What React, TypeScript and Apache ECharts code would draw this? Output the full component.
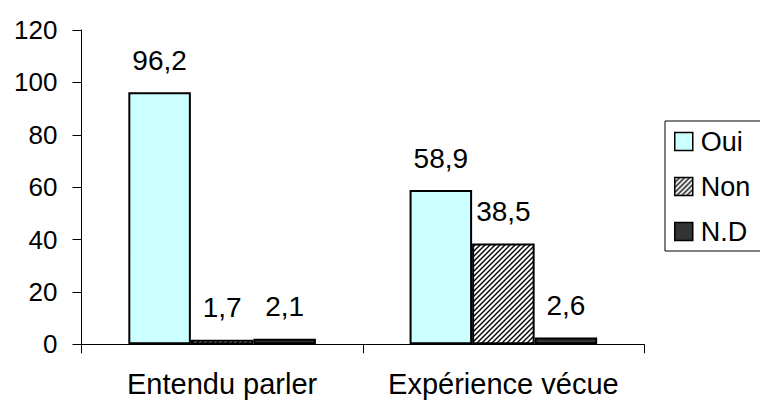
import React, { useEffect, useRef } from "react";
import * as echarts from "echarts";

const categories = ["Entendu parler", "Expérience vécue"];
const seriesNames = ["Oui", "Non", "N.D"];
const ouiValues = [96.2, 58.9];
const nonValues = [1.7, 38.5];
const ndValues = [2.1, 2.6];
const yTicks = { min: 0, max: 120, interval: 20 };

const FONT = "'Liberation Sans', Arial, sans-serif";

// Diagonal "/" hatching used for the "Non" bars.
function makeHatch(): HTMLCanvasElement {
  const size = 5;
  const c = document.createElement("canvas");
  c.width = size;
  c.height = size;
  const ctx = c.getContext("2d")!;
  ctx.fillStyle = "#ffffff";
  ctx.fillRect(0, 0, size, size);
  ctx.strokeStyle = "#000000";
  ctx.lineWidth = 1.4;
  ctx.beginPath();
  ctx.moveTo(-1, size + 1);
  ctx.lineTo(size + 1, -1);
  ctx.moveTo(-1, 1);
  ctx.lineTo(1, -1);
  ctx.moveTo(size - 1, size + 1);
  ctx.lineTo(size + 1, size - 1);
  ctx.stroke();
  return c;
}

const fmt = (v: number) => String(v).replace(".", ",");

export default function App() {
  const ref = useRef<HTMLDivElement>(null);

  useEffect(() => {
    document.body.style.margin = "0";
    if (!ref.current) return;
    const chart = echarts.init(ref.current, undefined, { renderer: "svg" });
    const hatch = makeHatch();

    const labelStyle = {
      show: true,
      position: "top" as const,
      distance: 18,
      color: "#000",
      fontFamily: FONT,
      fontSize: 28,
      formatter: (p: any) => fmt(p.value),
    };
    const border = { borderColor: "#000", borderWidth: 2 };

    chart.setOption({
      animation: false,
      backgroundColor: "#fff",
      grid: { left: 81.5, right: 116, top: 30, bottom: 56.7 },
      legend: {
        orient: "vertical",
        left: 665,
        top: 121,
        padding: [7, 20, 6, 9],
        itemGap: 18,
        itemWidth: 18,
        itemHeight: 18,
        icon: "rect",
        borderColor: "#000",
        borderWidth: 1,
        borderRadius: 0,
        itemStyle: { borderColor: "#000", borderWidth: 1.5 },
        textStyle: {
          color: "#000",
          fontFamily: FONT,
          fontSize: 27,
          padding: [0, 0, 0, 3],
        },
        data: seriesNames,
      },
      xAxis: {
        type: "category",
        data: categories,
        axisLine: { lineStyle: { color: "#000", width: 1 } },
        axisTick: { show: true, length: 9, lineStyle: { color: "#000" } },
        axisLabel: {
          interval: 0,
          color: "#000",
          fontFamily: FONT,
          fontSize: 29,
          margin: 25,
        },
      },
      yAxis: {
        type: "value",
        min: yTicks.min,
        max: yTicks.max,
        interval: yTicks.interval,
        axisLine: { show: true, lineStyle: { color: "#000", width: 1 } },
        axisTick: { show: true, length: 9, lineStyle: { color: "#000" } },
        splitLine: { show: false },
        axisLabel: {
          color: "#000",
          fontFamily: FONT,
          fontSize: 26,
          margin: 24,
        },
      },
      series: [
        {
          name: seriesNames[0],
          type: "bar",
          data: ouiValues,
          barGap: "0%",
          barCategoryGap: "33.3%",
          itemStyle: { color: "#CCFFFF", ...border },
          label: labelStyle,
        },
        {
          name: seriesNames[1],
          type: "bar",
          data: nonValues,
          barGap: "0%",
          barCategoryGap: "33.3%",
          itemStyle: {
            color: { image: hatch, repeat: "repeat" },
            ...border,
          },
          label: labelStyle,
        },
        {
          name: seriesNames[2],
          type: "bar",
          data: ndValues,
          barGap: "0%",
          barCategoryGap: "33.3%",
          itemStyle: { color: "#333333", ...border },
          label: labelStyle,
        },
      ],
    });

    return () => chart.dispose();
  }, []);

  return <div ref={ref} style={{ width: 760, height: 401 }} />;
}
